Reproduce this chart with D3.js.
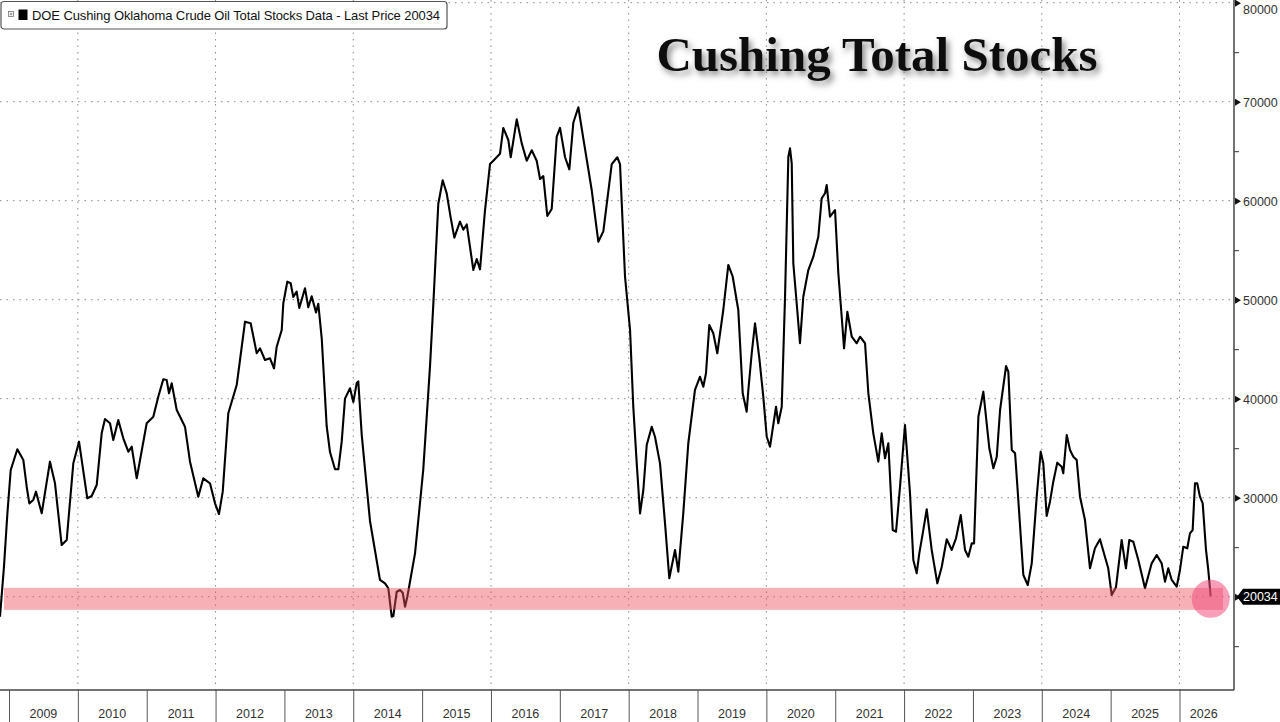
<!DOCTYPE html>
<html>
<head>
<meta charset="utf-8">
<script src="https://cdn.jsdelivr.net/npm/d3@7"></script>
<style>
  body { margin: 0; background: #fff; }
  svg { display: block; }
</style>
</head>
<body>
<div id="vis"></div>
<script>
// declare constants
const FRAME_WIDTH = 1280;
const FRAME_HEIGHT = 722;
const PLOT = {left: 0, right: 1234, top: 0, bottom: 690};

// weekly Cushing stocks (thousand barrels)
const years = [2008.869, 2008.927, 2008.975, 2009.025, 2009.121, 2009.208, 2009.257, 2009.295, 2009.353, 2009.392,
  2009.475, 2009.595, 2009.668, 2009.765, 2009.838, 2009.934, 2010.017, 2010.137, 2010.201, 2010.274,
  2010.346, 2010.394, 2010.467, 2010.515, 2010.587, 2010.660, 2010.733, 2010.782, 2010.855, 2011.000,
  2011.096, 2011.168, 2011.241, 2011.290, 2011.324, 2011.363, 2011.436, 2011.556, 2011.629, 2011.749,
  2011.822, 2011.919, 2011.992, 2012.050, 2012.104, 2012.185, 2012.307, 2012.355, 2012.428, 2012.510,
  2012.598, 2012.646, 2012.718, 2012.791, 2012.849, 2012.888, 2012.961, 2012.984, 2013.042, 2013.091,
  2013.129, 2013.178, 2013.216, 2013.299, 2013.347, 2013.396, 2013.459, 2013.492, 2013.542, 2013.614,
  2013.662, 2013.735, 2013.783, 2013.832, 2013.880, 2013.953, 2014.001, 2014.050, 2014.073, 2014.123,
  2014.185, 2014.243, 2014.388, 2014.461, 2014.509, 2014.558, 2014.582, 2014.631, 2014.679, 2014.718,
  2014.752, 2014.785, 2014.824, 2014.897, 2014.945,
  2015.017, 2015.115, 2015.163, 2015.235, 2015.299, 2015.357, 2015.415, 2015.468, 2015.550,
  2015.598, 2015.648, 2015.744, 2015.793, 2015.841, 2015.913, 2015.986, 2016.034, 2016.131, 2016.179,
  2016.252, 2016.287, 2016.374, 2016.447, 2016.519, 2016.592, 2016.664, 2016.713, 2016.760, 2016.818,
  2016.882, 2016.955, 2017.003, 2017.076, 2017.138, 2017.196, 2017.269, 2017.341, 2017.463, 2017.559,
  2017.632, 2017.754, 2017.835, 2017.874,
  2017.947, 2018.020, 2018.067, 2018.117, 2018.165, 2018.213, 2018.262, 2018.335, 2018.382, 2018.455,
  2018.528, 2018.590, 2018.673, 2018.721, 2018.793, 2018.866, 2018.963, 2019.036, 2019.084, 2019.123,
  2019.171, 2019.229, 2019.287, 2019.374, 2019.447, 2019.511, 2019.592, 2019.656, 2019.714, 2019.738,
  2019.787, 2019.835, 2019.898, 2019.955, 2020.005, 2020.053, 2020.140, 2020.173, 2020.223, 2020.271,
  2020.319, 2020.343, 2020.368, 2020.391, 2020.440, 2020.488, 2020.536, 2020.609, 2020.682, 2020.754,
  2020.803, 2020.852, 2020.876, 2020.924, 2020.997, 2021.045, 2021.094, 2021.128, 2021.176, 2021.240,
  2021.312, 2021.360, 2021.433, 2021.481, 2021.553, 2021.626, 2021.675, 2021.723, 2021.771, 2021.835,
  2021.883, 2021.941, 2022.013, 2022.086, 2022.134, 2022.183, 2022.221, 2022.271, 2022.329, 2022.401,
  2022.483, 2022.547, 2022.619, 2022.692, 2022.754, 2022.823, 2022.885, 2022.933, 2022.983, 2023.016,
  2023.079, 2023.151, 2023.238, 2023.297, 2023.346, 2023.394, 2023.481, 2023.514, 2023.564, 2023.612,
  2023.659, 2023.732, 2023.796, 2023.854, 2023.926, 2023.984, 2024.022, 2024.071, 2024.119, 2024.167,
  2024.225, 2024.289, 2024.312, 2024.362, 2024.410, 2024.458, 2024.507, 2024.555, 2024.627, 2024.700,
  2024.772, 2024.845, 2024.917, 2024.965, 2025.015, 2025.077, 2025.160, 2025.222, 2025.271, 2025.329,
  2025.402, 2025.499, 2025.596, 2025.669, 2025.741, 2025.789, 2025.837, 2025.887, 2025.959, 2026.007,
  2026.055, 2026.113, 2026.152, 2026.191, 2026.225, 2026.258, 2026.297, 2026.337, 2026.385, 2026.418, 2026.453];

const stocks = [17980, 23030, 28250, 32800, 34890, 33810, 31110, 29430, 29770, 30610,
  28420, 33640, 31450, 25220, 25730, 33470, 35660, 29940, 30170, 31280,
  36500, 37950, 37520, 35830, 37850, 36000, 34650, 35150, 31960, 37520,
  38180, 40200, 41960, 41890, 40550, 41560, 38860, 37170, 33640, 30100,
  31960, 31450, 29430, 28350, 30610, 38530, 41380, 43910, 47780, 47620,
  44590, 45090, 43910, 44080, 43070, 45250, 46940, 49640, 51820, 51660,
  50280, 50810, 49170, 51150, 49240, 50350, 48720, 49590, 46100, 37220,
  34610, 32870, 32870, 35660, 40010, 41050, 39660, 41580, 41750, 36350,
  31820, 27650, 21690, 21350, 20850, 17980, 18050, 20500, 20680, 20400,
  18990, 20000, 21510, 24380, 27750,
  32870, 43310, 49590, 59690, 62060, 60740, 58290, 56270, 57880,
  57070, 57600, 53000, 54110, 53070, 58990, 63700, 64040, 64740, 67350,
  66130, 64390, 68220, 65790, 64040, 65090, 64040, 62190, 62480, 58460,
  59160, 66470, 67350, 64390, 63170, 67870, 69440, 66300, 61080, 55860,
  56900, 63700, 64390, 63700,
  52320, 46940, 39190, 33470, 28420, 30780, 35320, 37170, 36160, 33470,
  27410, 21860, 24720, 22530, 28420, 35500, 40880, 42220, 41210, 42570,
  47440, 46610, 44590, 48960, 53510, 52320, 48960, 40550, 38690, 40880,
  44590, 47620, 44080, 40200, 36160, 35150, 39190, 37520, 39190, 50300,
  64440, 65290, 63780, 53680, 49640, 45600, 50300, 53000, 54340, 56360,
  60240, 60750, 61590, 58380, 59060, 52670, 48280, 45090, 48790, 46260,
  45600, 46260, 45600, 40550, 36500, 33640, 36500, 33980, 35500, 26740,
  26560, 31110, 37340, 30440, 23710, 22360, 24380, 26400, 28830, 24720,
  21350, 23030, 25800, 24720, 25900, 28250, 24720, 24040, 25390, 25390,
  38180, 40710, 34990, 32970, 34140, 38860, 43300, 42730, 34820, 34490,
  29770, 22190, 21180, 23370, 30100, 34650, 33470, 28150, 29600, 31620,
  33540, 33130, 32460, 36330, 34820, 34140, 33810, 30100, 27750, 22870,
  24890, 25800, 24040, 22870, 20170, 20950, 25730, 22870, 25730, 25560,
  23710, 20850, 23370, 24210, 23370, 21520, 22870, 21690, 21010, 22700,
  25050, 24890, 26400, 26740, 31450, 31450, 30100, 29430, 24720, 22700, 20034];

const yearLabels = [2009, 2010, 2011, 2012, 2013, 2014, 2015, 2016, 2017,
  2018, 2019, 2020, 2021, 2022, 2023, 2024, 2025, 2026];
const gridYears = [2010, 2012, 2014, 2016, 2018, 2020, 2022, 2024, 2026];
const stockTicks = [20000, 30000, 40000, 50000, 60000, 70000, 80000];
const minorTicks = [15000, 25000, 35000, 45000, 55000, 65000, 75000];
const LAST_PRICE = 20034;
const SERIES_NAME = "DOE Cushing Oklahoma Crude Oil Total Stocks Data";
const TITLE = "Cushing Total Stocks";

const data = years.map((yr, i) => ({year: yr, value: stocks[i]}));

const FRAME = d3.select("#vis")
  .append("svg")
  .attr("width", FRAME_WIDTH)
  .attr("height", FRAME_HEIGHT);

// scales
const x = d3.scaleLinear().domain([2009, 2026]).range([9, 1179.5]);
const y = d3.scaleLinear().domain([10576, 80273]).range([PLOT.bottom, PLOT.top]);

const defs = FRAME.append("defs");
defs.append("clipPath").attr("id", "plotclip")
  .append("rect")
  .attr("x", PLOT.left).attr("y", PLOT.top)
  .attr("width", PLOT.right - PLOT.left).attr("height", PLOT.bottom - PLOT.top);

const shadow = defs.append("filter").attr("id", "shadow")
  .attr("x", "-10%").attr("y", "-30%").attr("width", "130%").attr("height", "180%");
shadow.append("feDropShadow")
  .attr("dx", 3).attr("dy", 4).attr("stdDeviation", 3)
  .attr("flood-color", "#555").attr("flood-opacity", 0.7);

// dotted grid
FRAME.append("g")
  .selectAll("line")
  .data(stockTicks)
  .enter()
  .append("line")
    .attr("x1", PLOT.left).attr("x2", PLOT.right)
    .attr("y1", d => y(d)).attr("y2", d => y(d))
    .attr("stroke", "#8a8a8a").attr("stroke-width", 1)
    .attr("stroke-dasharray", "1.5,5");

FRAME.append("g")
  .selectAll("line")
  .data(gridYears)
  .enter()
  .append("line")
    .attr("x1", d => x(d)).attr("x2", d => x(d))
    .attr("y1", PLOT.top).attr("y2", PLOT.bottom)
    .attr("stroke", "#8a8a8a").attr("stroke-width", 1)
    .attr("stroke-dasharray", "1.5,5");

// the stocks line
const line = d3.line().x(d => x(d.year)).y(d => y(d.value));

FRAME.append("path")
  .datum(data)
  .attr("clip-path", "url(#plotclip)")
  .attr("d", line)
  .attr("fill", "none")
  .attr("stroke", "#000")
  .attr("stroke-width", 2.1)
  .attr("stroke-linejoin", "round");

// pink band at the last price, drawn over the line
const last = data[data.length - 1];
FRAME.append("rect")
  .attr("x", 4)
  .attr("y", y(LAST_PRICE) - 8.5)
  .attr("width", 1219)
  .attr("height", 22)
  .attr("fill", "#f0505f")
  .attr("opacity", 0.45);

FRAME.append("circle")
  .attr("cx", x(last.year))
  .attr("cy", y(LAST_PRICE) + 2.5)
  .attr("r", 19)
  .attr("fill", "#f0507e")
  .attr("opacity", 0.55);

// right axis
const axisG = FRAME.append("g")
  .attr("transform", "translate(" + PLOT.right + ",0)")
  .call(d3.axisRight(y).tickValues(stockTicks).tickSize(0).tickPadding(9).tickFormat(d3.format("d")));
axisG.select(".domain").remove();
axisG.selectAll("text")
  .attr("font-family", "Liberation Sans, Arial, sans-serif")
  .attr("font-size", "12.5px")
  .attr("fill", "#333")
  .attr("dy", d => d === 80000 ? "0.9em" : "0.35em");
axisG.selectAll(".tick")
  .append("path")
  .attr("d", "M1,-3.5L7,0L1,3.5Z")
  .attr("fill", "#111");

FRAME.append("g")
  .attr("transform", "translate(" + PLOT.right + ",0)")
  .call(d3.axisRight(y).tickValues(minorTicks).tickSize(5).tickFormat(""))
  .call(g => g.select(".domain").remove())
  .selectAll("line").attr("stroke", "#333");

FRAME.append("line")
  .attr("x1", PLOT.right).attr("x2", PLOT.right)
  .attr("y1", PLOT.top).attr("y2", PLOT.bottom)
  .attr("stroke", "#444").attr("stroke-width", 1.5);

// bottom axis
FRAME.append("line")
  .attr("x1", PLOT.left).attr("x2", PLOT.right)
  .attr("y1", PLOT.bottom).attr("y2", PLOT.bottom)
  .attr("stroke", "#444").attr("stroke-width", 1.5);

const bottomG = FRAME.append("g")
  .attr("transform", "translate(0," + PLOT.bottom + ")")
  .call(d3.axisBottom(x).tickValues(yearLabels).tickSize(FRAME_HEIGHT - PLOT.bottom).tickFormat(""));
bottomG.select(".domain").remove();
bottomG.selectAll("line").attr("stroke", "#555");

FRAME.append("g")
  .selectAll("text")
  .data(yearLabels)
  .enter()
  .append("text")
    .attr("x", d => (x(d) + Math.min(x(d + 1), PLOT.right)) / 2 - (d === 2026 ? 3 : 0))
    .attr("y", 718)
    .attr("text-anchor", "middle")
    .attr("font-family", "Liberation Sans, Arial, sans-serif")
    .attr("font-size", "12.5px")
    .attr("fill", "#333")
    .text(d => d);

// last price tag
const tagY = y(LAST_PRICE) + 0.5;
FRAME.append("path")
  .attr("d", "M1237," + tagY + "L1243," + (tagY - 8) + "L1280," + (tagY - 8) +
             "L1280," + (tagY + 8) + "L1243," + (tagY + 8) + "Z")
  .attr("fill", "#000");
FRAME.append("text")
  .attr("x", 1243)
  .attr("y", tagY + 4.5)
  .attr("font-family", "Liberation Sans, Arial, sans-serif")
  .attr("font-size", "12.5px")
  .attr("fill", "#fff")
  .text(LAST_PRICE);

// legend box
const legend = FRAME.append("g");
legend.append("rect")
  .attr("x", 1).attr("y", 1.5)
  .attr("width", 446).attr("height", 27.5)
  .attr("rx", 3)
  .attr("fill", "#fff")
  .attr("stroke", "#555").attr("stroke-width", 1.2);
legend.append("rect")
  .attr("x", 8.5).attr("y", 11.5).attr("width", 5).attr("height", 5)
  .attr("fill", "none").attr("stroke", "#777").attr("stroke-width", 0.8);
legend.append("path")
  .attr("d", "M9.5,14H12.5M11,12.5V15.5")
  .attr("stroke", "#777").attr("stroke-width", 0.8);
legend.append("rect")
  .attr("x", 18.5).attr("y", 9.5).attr("width", 9).attr("height", 10.5)
  .attr("fill", "#000");
legend.append("text")
  .attr("x", 32)
  .attr("y", 20)
  .attr("font-family", "Liberation Sans, Arial, sans-serif")
  .attr("font-size", "13px")
  .attr("fill", "#111")
  .attr("textLength", 408)
  .text(SERIES_NAME + " - Last Price " + LAST_PRICE);

// chart title
FRAME.append("text")
  .attr("x", 877)
  .attr("y", 71)
  .attr("text-anchor", "middle")
  .attr("font-family", "Liberation Serif, Times New Roman, serif")
  .attr("font-weight", "bold")
  .attr("font-size", "49px")
  .attr("fill", "#111")
  .attr("filter", "url(#shadow)")
  .text(TITLE);
</script>
</body>
</html>
